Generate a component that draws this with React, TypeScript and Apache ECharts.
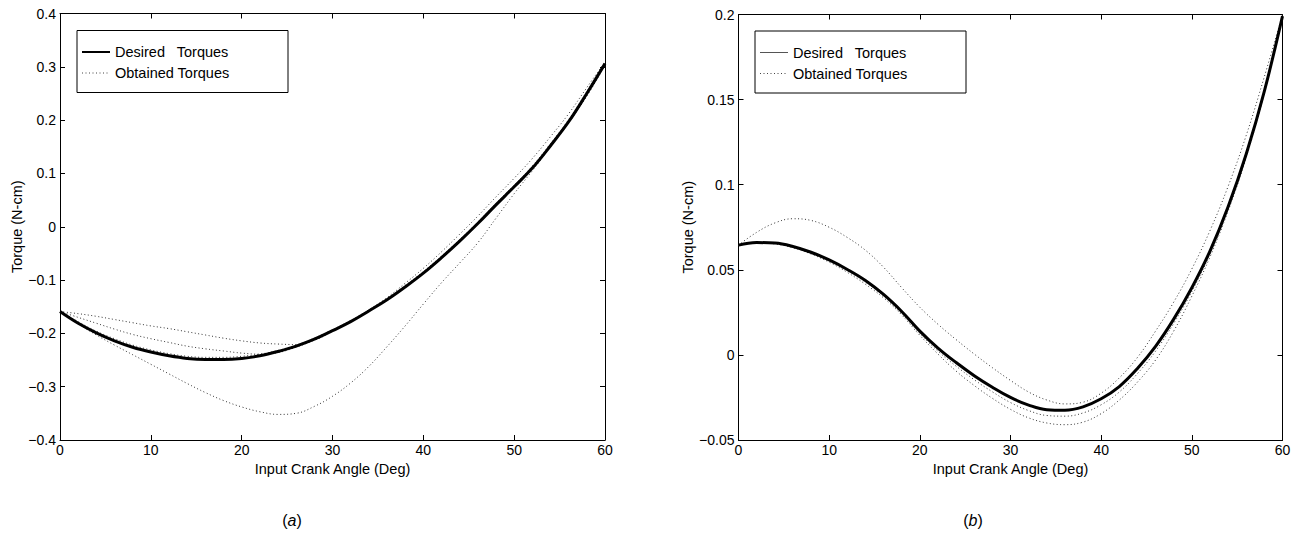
import React, { useEffect, useRef } from 'react';
import * as echarts from 'echarts';

const FONT = '"Liberation Sans", Arial, Helvetica, sans-serif';

// Input crank angle (deg)
const angles = [0, 2, 4, 6, 8, 10, 12, 14, 16, 18, 20, 22, 24, 26, 28, 30, 32, 34, 36, 38, 40, 42, 44, 46, 48, 50, 52, 54, 56, 58, 60];

// Panel (a)
const desiredA = [-0.159, -0.181, -0.199, -0.214, -0.226, -0.235, -0.242, -0.247, -0.249, -0.249, -0.247, -0.242, -0.234, -0.224, -0.211, -0.195, -0.178, -0.158, -0.137, -0.113, -0.087, -0.058, -0.027, 0.006, 0.041, 0.075, 0.110, 0.152, 0.197, 0.250, 0.306];
const obtainedA1 = [-0.159, -0.163, -0.168, -0.174, -0.180, -0.186, -0.191, -0.197, -0.203, -0.209, -0.214, -0.218, -0.220, -0.221, -0.213, -0.196, -0.177, -0.156, -0.133, -0.106, -0.078, -0.047, -0.014, 0.020, 0.056, 0.091, 0.128, 0.169, 0.212, 0.261, 0.309];
const obtainedA2 = [-0.159, -0.170, -0.181, -0.192, -0.202, -0.210, -0.217, -0.224, -0.229, -0.233, -0.237, -0.239, -0.236, -0.226, -0.212, -0.195, -0.177, -0.157, -0.136, -0.111, -0.085, -0.056, -0.025, 0.008, 0.043, 0.077, 0.112, 0.154, 0.199, 0.252, 0.307];
const obtainedA3 = [-0.159, -0.178, -0.196, -0.210, -0.222, -0.231, -0.238, -0.243, -0.245, -0.245, -0.243, -0.239, -0.232, -0.222, -0.209, -0.193, -0.176, -0.156, -0.135, -0.110, -0.084, -0.055, -0.024, 0.009, 0.044, 0.078, 0.114, 0.156, 0.201, 0.254, 0.307];
const obtainedA4 = [-0.159, -0.182, -0.203, -0.222, -0.240, -0.258, -0.276, -0.294, -0.311, -0.326, -0.338, -0.347, -0.352, -0.350, -0.337, -0.318, -0.293, -0.262, -0.225, -0.186, -0.145, -0.105, -0.068, -0.030, 0.016, 0.062, 0.105, 0.150, 0.195, 0.245, 0.303];

// Panel (b)
const desiredB = [0.0645, 0.0660, 0.0657, 0.0637, 0.0603, 0.0558, 0.0502, 0.0437, 0.0355, 0.0255, 0.0140, 0.0040, -0.0045, -0.0122, -0.0190, -0.0250, -0.0295, -0.0322, -0.0325, -0.0305, -0.0258, -0.0186, -0.0080, 0.0050, 0.0210, 0.0395, 0.0610, 0.0870, 0.1180, 0.1550, 0.1990];
const obtainedB1 = [0.0645, 0.0720, 0.0775, 0.0800, 0.0790, 0.0750, 0.0690, 0.0615, 0.0515, 0.0395, 0.0280, 0.0180, 0.0090, 0.0005, -0.0075, -0.0150, -0.0218, -0.0265, -0.0288, -0.0278, -0.0225, -0.0135, -0.0015, 0.0140, 0.0310, 0.0505, 0.0730, 0.0990, 0.1290, 0.1635, 0.2000];
const obtainedB2 = [0.0645, 0.0659, 0.0655, 0.0634, 0.0599, 0.0552, 0.0495, 0.0428, 0.0345, 0.0243, 0.0126, 0.0022, -0.0066, -0.0146, -0.0217, -0.0280, -0.0327, -0.0356, -0.0360, -0.0341, -0.0293, -0.0218, -0.0110, 0.0022, 0.0185, 0.0372, 0.0592, 0.0855, 0.1170, 0.1545, 0.1990];
const obtainedB3 = [0.0645, 0.0658, 0.0652, 0.0630, 0.0593, 0.0545, 0.0485, 0.0415, 0.0335, 0.0235, 0.0115, 0.0005, -0.0095, -0.0180, -0.0255, -0.0320, -0.0370, -0.0400, -0.0410, -0.0395, -0.0345, -0.0265, -0.0160, -0.0030, 0.0140, 0.0345, 0.0575, 0.0845, 0.1160, 0.1540, 0.1990];

const xTitle = 'Input Crank Angle (Deg)';
const yTitle = 'Torque (N-cm)';
const legendDesired = 'Desired   Torques';
const legendObtained = 'Obtained Torques';

const fmt = (v: number) => {
  const r = Math.round(v * 1000) / 1000;
  if (r === 0) return '0';
  return (r < 0 ? '\u2212' : '') + String(Math.abs(r));
};

const pts = (arr: number[]) => angles.map((a, i) => [a, arr[i]]);

const axisLine = { show: true, onZero: false, lineStyle: { color: '#000', width: 1 } };
const tick = { show: true, inside: true, length: 5, lineStyle: { color: '#000', width: 1 } };
const label = { color: '#000', fontSize: 14, fontFamily: FONT, formatter: fmt };

function xAxes(g: number) {
  return [
    {
      type: 'value', gridIndex: g, min: 0, max: 60, interval: 10, position: 'bottom',
      axisLine, axisTick: tick, axisLabel: { ...label, margin: 3 }, splitLine: { show: false },
      name: xTitle, nameLocation: 'middle', nameGap: 19,
      nameTextStyle: { color: '#000', fontSize: 14.5, fontFamily: FONT },
    },
    {
      type: 'value', gridIndex: g, min: 0, max: 60, interval: 10, position: 'top',
      axisLine, axisTick: tick, axisLabel: { show: false }, splitLine: { show: false },
    },
  ];
}

function yAxes(g: number, min: number, max: number, interval: number, gap: number) {
  return [
    {
      type: 'value', gridIndex: g, min, max, interval, position: 'left',
      axisLine, axisTick: tick, axisLabel: { ...label, margin: 4 }, splitLine: { show: false },
      name: yTitle, nameLocation: 'middle', nameGap: gap, nameRotate: 90,
      nameTextStyle: { color: '#000', fontSize: 14.5, fontFamily: FONT },
    },
    {
      type: 'value', gridIndex: g, min, max, interval, position: 'right',
      axisLine, axisTick: tick, axisLabel: { show: false }, splitLine: { show: false },
    },
  ];
}

const dotted = (name: string, data: number[], xi: number, yi: number) => ({
  type: 'line', name, data: pts(data), xAxisIndex: xi, yAxisIndex: yi,
  showSymbol: false, symbol: 'none', smooth: 0.4, z: 2,
  lineStyle: { color: '#333', width: 1, type: [1, 2.5] },
});
const solid = (name: string, data: number[], xi: number, yi: number) => ({
  type: 'line', name, data: pts(data), xAxisIndex: xi, yAxisIndex: yi,
  showSymbol: false, symbol: 'none', smooth: 0.4, z: 3,
  lineStyle: { color: '#000', width: 3 },
});

function legendBox(x: number, y: number, thin: boolean) {
  return {
    type: 'group', x, y,
    children: [
      { type: 'rect', shape: { x: 0, y: 0, width: 211, height: 62 }, style: { fill: '#fff', stroke: '#000', lineWidth: 1 } },
      { type: 'line', shape: { x1: 5, y1: 21.5, x2: 33, y2: 21.5 }, style: { stroke: thin ? '#555' : '#000', lineWidth: thin ? 1 : 2 } },
      { type: 'text', x: 38, y: 21.5, style: { text: legendDesired, fill: '#000', fontSize: 14.5, fontFamily: FONT, verticalAlign: 'middle', align: 'left' } },
      { type: 'line', shape: { x1: 5, y1: 42.5, x2: 33, y2: 42.5 }, style: { stroke: '#444', lineWidth: 1, lineDash: [1, 2.5] } },
      { type: 'text', x: 38, y: 42.5, style: { text: legendObtained, fill: '#000', fontSize: 14.5, fontFamily: FONT, verticalAlign: 'middle', align: 'left' } },
    ],
  };
}

function panelLabel(x: number, y: number, letter: string) {
  return {
    type: 'text', x, y,
    style: {
      text: '({i|' + letter + '})', fill: '#000', fontSize: 16, fontFamily: FONT,
      align: 'center', verticalAlign: 'middle',
      rich: { i: { fontStyle: 'italic', fontSize: 16, fontFamily: FONT, fill: '#000' } },
    },
  };
}

export default function App() {
  const ref = useRef<HTMLDivElement>(null);
  useEffect(() => {
    document.body.style.margin = '0';
    const chart = echarts.init(ref.current!, null, { renderer: 'svg' });
    const option: any = {
      animation: false,
      backgroundColor: '#fff',
      grid: [
        { left: 60, top: 13.5, width: 545, height: 426.5 },
        { left: 738.5, top: 14.5, width: 544, height: 425.5 },
      ],
      xAxis: [...xAxes(0), ...xAxes(1)],
      yAxis: [...yAxes(0, -0.4, 0.4, 0.1, 35), ...yAxes(1, -0.05, 0.2, 0.05, 42)],
      series: [
        dotted(legendObtained, obtainedA1, 0, 0),
        dotted(legendObtained, obtainedA2, 0, 0),
        dotted(legendObtained, obtainedA3, 0, 0),
        dotted(legendObtained, obtainedA4, 0, 0),
        solid(legendDesired, desiredA, 0, 0),
        dotted(legendObtained, obtainedB1, 2, 2),
        dotted(legendObtained, obtainedB2, 2, 2),
        dotted(legendObtained, obtainedB3, 2, 2),
        solid(legendDesired, desiredB, 2, 2),
      ],
      graphic: [
        legendBox(77, 30.5, false),
        legendBox(755, 31, true),
        panelLabel(292, 520, 'a'),
        panelLabel(973, 520, 'b'),
      ],
    };
    chart.setOption(option);
    return () => chart.dispose();
  }, []);
  return <div ref={ref} style={{ width: 1294, height: 541, background: '#fff' }} />;
}
